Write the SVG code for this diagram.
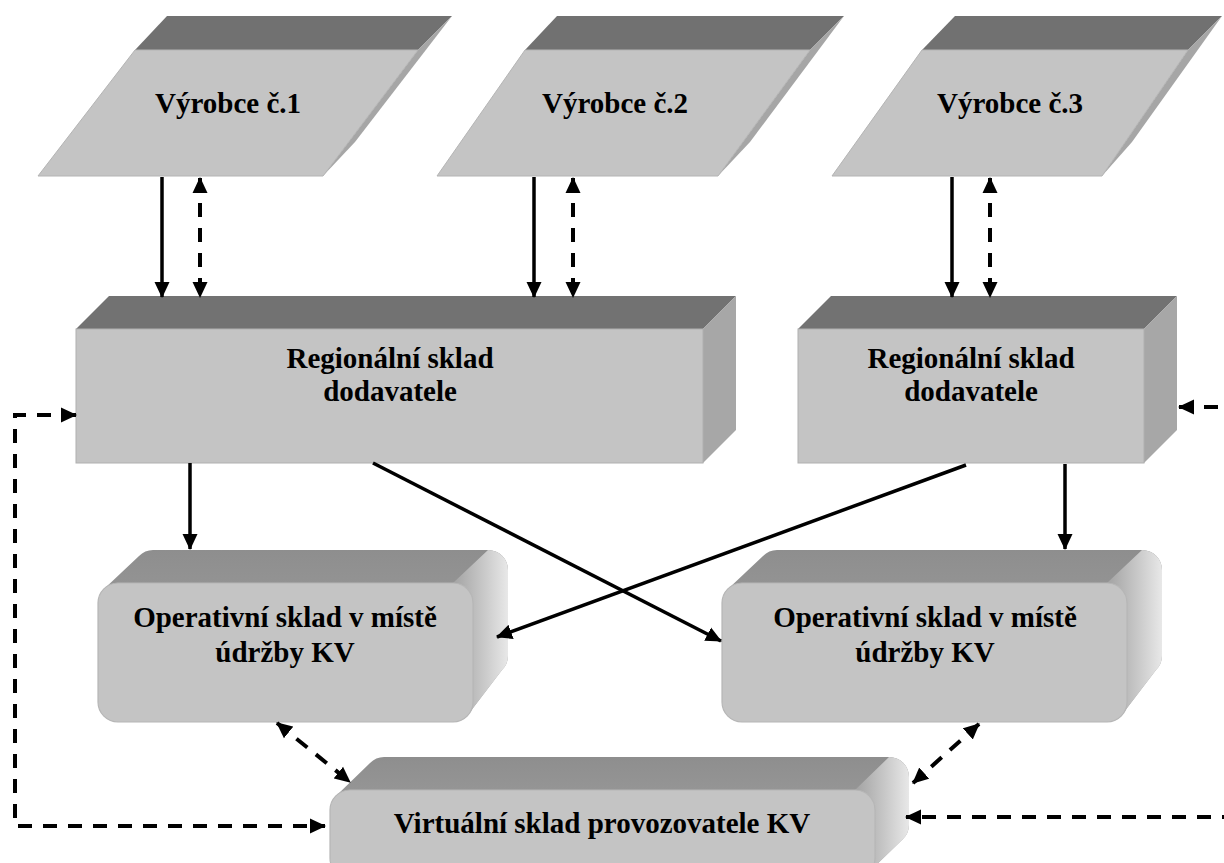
<svg xmlns="http://www.w3.org/2000/svg" width="1224" height="863" viewBox="0 0 1224 863">
  <style>
    .lbl { font-family: "Liberation Serif", "Times New Roman", serif; font-weight: bold; font-size: 29px; fill: #000; text-anchor: middle; }
    .pTop { fill: #717171; }
    .pFace { fill: #c4c4c4; stroke: #b4b4b4; stroke-width: 1; }
    .pSide { fill: #a6a6a6; }
    .bTop { fill: #727272; }
    .bFace { fill: #c4c4c4; stroke: #b0b0b0; stroke-width: 1; }
    .bSide { fill: #a7a7a7; }
    .rTop { fill: url(#rTopGrad); }
    .rSide { fill: url(#rSideGrad); }
    .rFace { fill: #c4c4c4; stroke: #b6b6b6; stroke-width: 1.2; }
    .solid { fill: none; stroke: #000; stroke-width: 3.5; }
    .dash { fill: none; stroke: #000; stroke-width: 4; stroke-dasharray: 14 11; }
  </style>
  <defs>
    <marker id="ah" viewBox="0 0 16 16" refX="15" refY="8" markerWidth="16" markerHeight="16" markerUnits="userSpaceOnUse" orient="auto-start-reverse">
      <path d="M0,0.5 L16,8 L0,15.5 Z" fill="#000"/>
    </marker>
    <linearGradient id="rTopGrad" x1="0" y1="0" x2="0" y2="1">
      <stop offset="0" stop-color="#8e8e8e"/>
      <stop offset="1" stop-color="#a6a6a6"/>
    </linearGradient>
    <linearGradient id="rSideGrad" x1="0" y1="0" x2="1" y2="0">
      <stop offset="0" stop-color="#a2a2a2"/>
      <stop offset="0.55" stop-color="#c8c8c8"/>
      <stop offset="1" stop-color="#e8e8e8"/>
    </linearGradient>
  </defs>

  <!-- producers: extruded parallelograms -->
  <g id="vyrobce1">
    <polygon class="pTop" points="135,50 167,16 452,16 418,50"/>
    <polygon class="pSide" points="418,50 452,16 355,142 323,176"/>
    <polygon class="pFace" points="135,50 418,50 323,176 38,176"/>
    <text class="lbl" x="228" y="113">Výrobce č.1</text>
  </g>
  <g id="vyrobce2">
    <polygon class="pTop" points="525,50 557,16 844,16 810,50"/>
    <polygon class="pSide" points="810,50 844,16 750,142 718,176"/>
    <polygon class="pFace" points="525,50 810,50 718,176 437,176"/>
    <text class="lbl" x="615" y="113">Výrobce č.2</text>
  </g>
  <g id="vyrobce3">
    <polygon class="pTop" points="922,50 955,16 1222,16 1188,50"/>
    <polygon class="pSide" points="1188,50 1222,16 1132,142 1102,176"/>
    <polygon class="pFace" points="922,50 1188,50 1102,176 832,176"/>
    <text class="lbl" x="1010" y="113">Výrobce č.3</text>
  </g>

  <!-- regional supplier warehouses: extruded boxes -->
  <g id="regionalni1">
    <polygon class="bTop" points="76,329 109,296 736,296 703,329"/>
    <polygon class="bSide" points="703,329 736,296 736,430 703,463"/>
    <rect class="bFace" x="76" y="329" width="627" height="134"/>
    <text class="lbl" x="390" y="368">Regionální sklad</text>
    <text class="lbl" x="390" y="401">dodavatele</text>
  </g>
  <g id="regionalni2">
    <polygon class="bTop" points="798,329 831,296 1177,296 1144,329"/>
    <polygon class="bSide" points="1144,329 1177,296 1177,430 1144,463"/>
    <rect class="bFace" x="798" y="329" width="346" height="134"/>
    <text class="lbl" x="971" y="368">Regionální sklad</text>
    <text class="lbl" x="971" y="401">dodavatele</text>
  </g>

  <!-- operational warehouses: rounded extruded boxes (offset 35,-33, r=20) -->
  <g id="operativni1">
    <path class="rTop" d="M104,589 L139,556 A20,20 0 0 1 153,550 L488,550 A20,20 0 0 1 508,570 L508,656 A20,20 0 0 1 502,670 L467,716 L473,583 Z"/>
    <path class="rSide" d="M453,583 L488,550 A20,20 0 0 1 508,570 L508,656 A20,20 0 0 1 502,670 L467,716 L473,603 Z"/>
    <rect class="rFace" x="98" y="583" width="375" height="139" rx="20"/>
    <text class="lbl" x="285" y="627">Operativní sklad v místě</text>
    <text class="lbl" x="285" y="662">údržby KV</text>
  </g>
  <g id="operativni2">
    <path class="rTop" d="M728,589 L763,556 A20,20 0 0 1 777,550 L1142,550 A20,20 0 0 1 1162,570 L1162,656 A20,20 0 0 1 1156,670 L1121,716 L1127,583 Z"/>
    <path class="rSide" d="M1107,583 L1142,550 A20,20 0 0 1 1162,570 L1162,656 A20,20 0 0 1 1156,670 L1121,716 L1127,603 Z"/>
    <rect class="rFace" x="722" y="583" width="405" height="139" rx="20"/>
    <text class="lbl" x="925" y="627">Operativní sklad v místě</text>
    <text class="lbl" x="925" y="662">údržby KV</text>
  </g>

  <!-- operator's virtual warehouse -->
  <g id="virtualni">
    <path class="rTop" d="M336,796 L370,763 A20,20 0 0 1 384,757 L889,757 A20,20 0 0 1 909,777 L909,825 A20,20 0 0 1 903,839 L869,872 L875,790 Z"/>
    <path class="rSide" d="M855,790 L889,757 A20,20 0 0 1 909,777 L909,825 A20,20 0 0 1 903,839 L869,872 L875,810 Z"/>
    <rect class="rFace" x="330" y="790" width="545" height="88" rx="20"/>
    <text class="lbl" x="602" y="833">Virtuální sklad provozovatele KV</text>
  </g>

  <!-- flows between warehouses -->
  <g id="connectors">
    <!-- producers to regional warehouses -->
    <path class="solid" d="M162,177 L162,297" marker-end="url(#ah)"/>
    <path class="dash" d="M200,178 L200,297" marker-start="url(#ah)" marker-end="url(#ah)"/>
    <path class="solid" d="M534,177 L534,297" marker-end="url(#ah)"/>
    <path class="dash" d="M573,178 L573,297" marker-start="url(#ah)" marker-end="url(#ah)"/>
    <path class="solid" d="M952,177 L952,297" marker-end="url(#ah)"/>
    <path class="dash" d="M990,178 L990,297" marker-start="url(#ah)" marker-end="url(#ah)"/>

    <!-- regional to operational warehouses -->
    <path class="solid" d="M190,463 L190,549" marker-end="url(#ah)"/>
    <path class="solid" d="M373,463 L721,641" marker-end="url(#ah)"/>
    <path class="solid" d="M966,465 L497,637" marker-end="url(#ah)"/>
    <path class="solid" d="M1065,464 L1065,549" marker-end="url(#ah)"/>

    <!-- operational to virtual warehouse -->
    <path class="dash" d="M277,723 L350,782" marker-start="url(#ah)" marker-end="url(#ah)"/>
    <path class="dash" d="M979,724 L913,783" marker-start="url(#ah)" marker-end="url(#ah)"/>

    <!-- virtual warehouse links back to the regional warehouses -->
    <path class="dash" d="M76,415 L15,415 L15,826 L325,826" marker-start="url(#ah)" marker-end="url(#ah)"/>
    <path class="dash" d="M1179,407 L1240,407 L1240,817 L906,817" marker-start="url(#ah)" marker-end="url(#ah)"/>
  </g>
</svg>
